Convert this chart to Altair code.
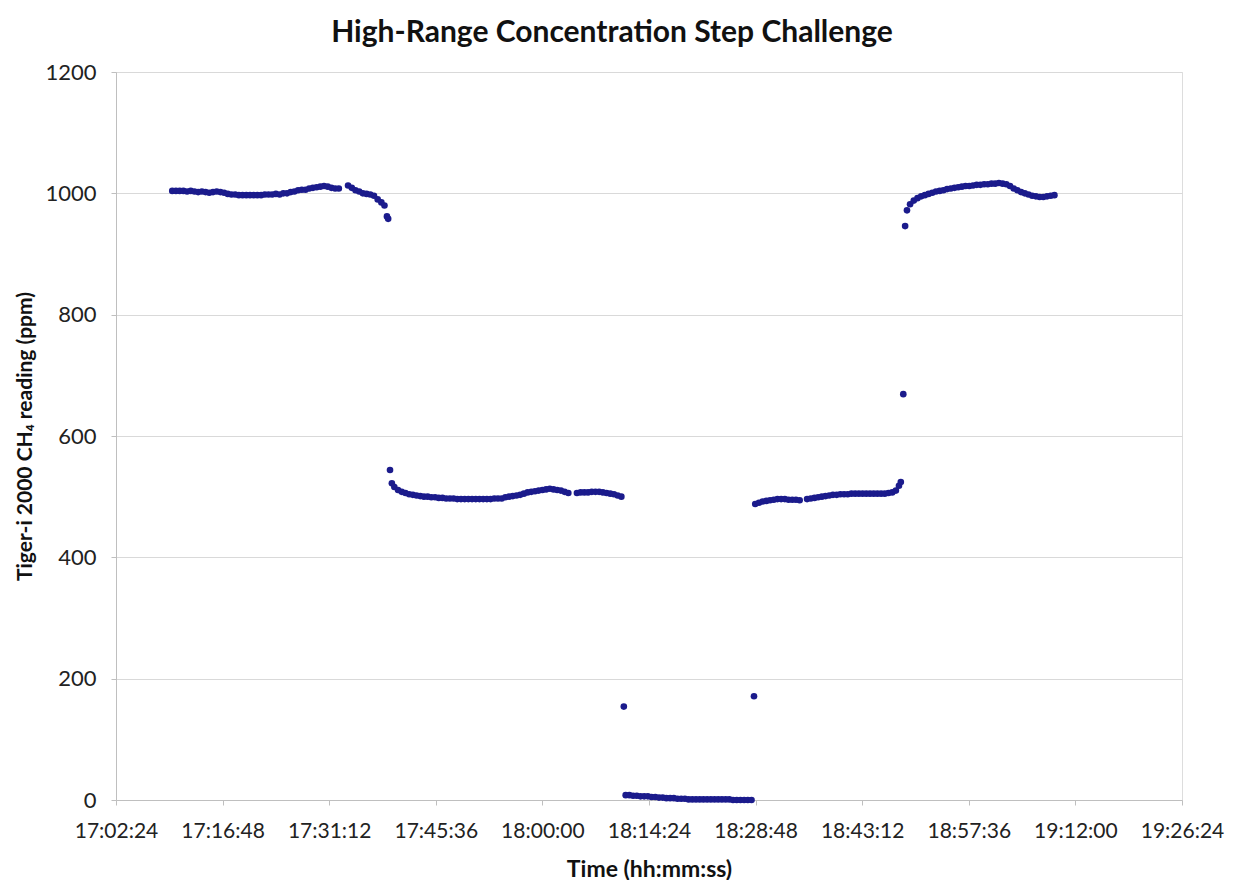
import altair as alt
import pandas as pd

# Readings (time hh:mm:ss, ppm)
seg1_time = ["17:10:00","17:10:30","17:11:00","17:11:30","17:12:00","17:12:30","17:13:00","17:13:30",
             "17:14:00","17:14:30","17:15:00","17:15:30","17:16:00","17:16:30","17:17:00","17:17:30",
             "17:18:00","17:18:30","17:19:00","17:19:30","17:20:00","17:20:30","17:21:00","17:21:30",
             "17:22:00","17:22:30","17:23:00","17:23:30","17:24:00","17:24:30","17:25:00","17:25:30",
             "17:26:00","17:26:30","17:27:00","17:27:30","17:28:00","17:28:30","17:29:00","17:29:30",
             "17:30:00","17:30:30","17:31:00","17:31:30","17:32:00","17:32:30","17:33:45","17:34:15",
             "17:34:45","17:35:15","17:35:45","17:36:15","17:36:45","17:37:15","17:37:45","17:38:15",
             "17:38:40","17:39:00","17:39:10"]
seg1_ppm = [1004,1004,1004,1004,1003,1004,1003,1002,
            1003,1002,1001,1002,1003,1002,1001,999,
            998,998,997,997,997,997,997,997,
            997,998,998,998,999,998,1000,1000,
            1002,1003,1005,1006,1006,1008,1009,1010,
            1011,1012,1011,1009,1008,1008,1013,1009,
            1005,1003,1000,999,998,996,990,985,
            980,962,958]

seg2_time = ["17:39:25","17:39:40","17:40:00","17:40:30","17:41:00","17:41:30","17:42:00","17:42:30",
             "17:43:00","17:43:30","17:44:00","17:44:30","17:45:00","17:45:30","17:46:00","17:46:30",
             "17:47:00","17:47:30","17:48:00","17:48:30","17:49:00","17:49:30","17:50:00","17:50:30",
             "17:51:00","17:51:30","17:52:00","17:52:30","17:53:00","17:53:30","17:54:00","17:54:30",
             "17:55:00","17:55:30","17:56:00","17:56:30","17:57:00","17:57:30","17:58:00","17:58:30",
             "17:59:00","17:59:30","18:00:00","18:00:30","18:01:00","18:01:30","18:02:00","18:02:30",
             "18:03:00","18:03:30","18:04:40","18:05:10","18:05:40","18:06:10","18:06:40","18:07:10",
             "18:07:40","18:08:10","18:08:40","18:09:10","18:09:40","18:10:10","18:10:40"]
seg2_ppm = [544,522,516,511,508,506,504,503,
            502,501,500,500,499,499,498,498,
            497,497,497,496,496,496,496,496,
            496,496,496,496,496,497,497,497,
            499,500,501,502,503,505,507,508,
            509,510,511,512,513,512,511,510,
            508,506,506,507,507,507,508,508,
            508,507,506,505,504,502,500]

seg3_time = ["18:11:00","18:11:15","18:11:45","18:12:15","18:12:45","18:13:15","18:13:45","18:14:15",
             "18:14:45","18:15:15","18:15:45","18:16:15","18:16:45","18:17:15","18:17:45","18:18:15",
             "18:18:45","18:19:15","18:19:45","18:20:15","18:20:45","18:21:15","18:21:45","18:22:15",
             "18:22:45","18:23:15","18:23:45","18:24:15","18:24:45","18:25:15","18:25:45","18:26:15",
             "18:26:45","18:27:15","18:27:45","18:28:15","18:28:35"]
seg3_ppm = [154,8,8,7,7,6,6,6,
            5,5,4,4,3,3,3,2,
            2,2,1,1,1,1,1,1,
            1,1,1,1,1,1,0,0,
            0,0,0,0,171]

seg4_time = ["18:28:45","18:29:15","18:29:45","18:30:15","18:30:45","18:31:15","18:31:45","18:32:15",
             "18:32:45","18:33:15","18:33:45","18:34:15","18:34:45","18:35:45","18:36:15","18:36:45",
             "18:37:15","18:37:45","18:38:15","18:38:45","18:39:15","18:39:45","18:40:15","18:40:45",
             "18:41:15","18:41:45","18:42:15","18:42:45","18:43:15","18:43:45","18:44:15","18:44:45",
             "18:45:15","18:45:45","18:46:15","18:46:45","18:47:15","18:47:45","18:48:10","18:48:25",
             "18:48:45","18:49:00"]
seg4_ppm = [488,490,492,493,494,495,496,496,
            496,495,495,495,494,496,497,498,
            499,500,501,502,503,503,504,504,
            504,505,505,505,505,505,505,505,
            505,505,505,506,507,510,518,524,
            669,946]

seg5_time = ["18:49:15","18:49:40","18:50:10","18:50:40","18:51:10","18:51:40","18:52:10","18:52:40",
             "18:53:10","18:53:40","18:54:10","18:54:40","18:55:10","18:55:40","18:56:10","18:56:40",
             "18:57:10","18:57:40","18:58:10","18:58:40","18:59:10","18:59:40","19:00:10","19:00:40",
             "19:01:10","19:01:40","19:02:10","19:02:40","19:03:10","19:03:40","19:04:10","19:04:40",
             "19:05:10","19:05:40","19:06:10","19:06:40","19:07:10","19:07:40","19:08:10","19:08:40",
             "19:09:10"]
seg5_ppm = [972,982,988,992,995,997,999,1001,
            1003,1004,1005,1007,1008,1009,1010,1011,
            1012,1012,1013,1014,1014,1015,1015,1016,
            1016,1017,1016,1015,1012,1008,1005,1002,
            1000,998,996,995,994,994,995,996,
            997]

x_ticks = ["17:02:24","17:16:48","17:31:12","17:45:36","18:00:00","18:14:24",
           "18:28:48","18:43:12","18:57:36","19:12:00","19:26:24"]
y_ticks = [0, 200, 400, 600, 800, 1000, 1200]


def to_sec(s):
    h, m, sec = s.split(":")
    return int(h) * 3600 + int(m) * 60 + int(sec)


times = seg1_time + seg2_time + seg3_time + seg4_time + seg5_time
ppm = seg1_ppm + seg2_ppm + seg3_ppm + seg4_ppm + seg5_ppm
df = pd.DataFrame({"t": [to_sec(s) for s in times], "ppm": ppm})

tick_secs = [to_sec(s) for s in x_ticks]

FONT = "Lato"

chart = alt.Chart(df).mark_circle(size=44, opacity=1, color="#1b1b8c").encode(
    x=alt.X("t:Q",
            scale=alt.Scale(domain=[tick_secs[0], tick_secs[-1]], nice=False, zero=False),
            axis=alt.Axis(values=tick_secs,
                          labelExpr="utcFormat(datum.value*1000, '%H:%M:%S')",
                          title="Time (hh:mm:ss)",
                          grid=False, domainColor="#bfbfbf", tickColor="#bfbfbf",
                          tickSize=5, labelPadding=15, labelFontSize=21, labelFont=FONT,
                          labelColor="#222222", titleFont=FONT, titleFontSize=23,
                          titleFontWeight="bold", titleColor="#111111", titlePadding=17,
                          labelFlush=False, labelOverlap=False)),
    y=alt.Y("ppm:Q",
            scale=alt.Scale(domain=[0, 1200], nice=False),
            axis=alt.Axis(values=y_ticks, format="d",
                          title="Tiger-i 2000 CH₄ reading (ppm)",
                          grid=True, gridColor="#d9d9d9", domainColor="#bfbfbf",
                          tickColor="#bfbfbf", tickSize=5, labelPadding=15,
                          labelFontSize=22, labelFont=FONT, labelColor="#222222",
                          titleFont=FONT, titleFontSize=21, titleFontWeight="bold",
                          titleColor="#111111", titlePadding=9)),
).properties(
    width=1066,
    height=728,
    autosize="none",
    padding={"left": 108, "top": 64, "right": 43, "bottom": 80},
    title=alt.TitleParams("High-Range Concentration Step Challenge", font=FONT,
                          fontSize=30, fontWeight="bold", color="#111111",
                          anchor="middle", dx=-37, offset=13),
).configure_view(stroke=None).configure(background="white")

chart.save("out.html", embed_options={"renderer": "svg", "actions": False})
